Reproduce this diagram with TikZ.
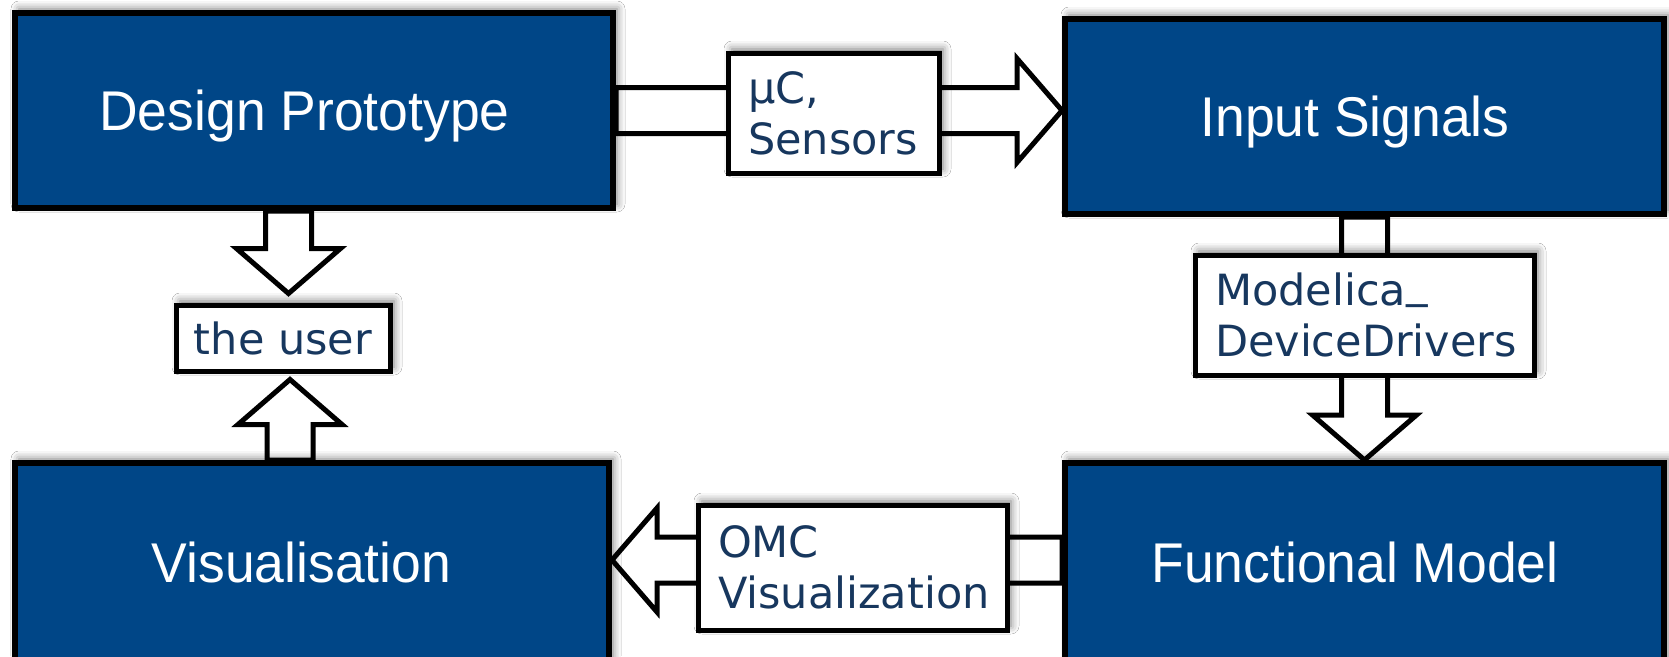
\documentclass[tikz,border=0pt]{standalone}
\usepackage{fontspec}
\newfontfamily\boxfont{Liberation Sans}[FakeStretch=0.955]
\newfontfamily\labfont{DejaVu Sans}
\usetikzlibrary{calc,shadows.blur}
\definecolor{boxblue}{HTML}{004687}
\definecolor{labtext}{HTML}{17375E}
\pgfdeclarelayer{bg}
\pgfsetlayers{bg,main}
\tikzset{
  softshadow/.style={blur shadow={shadow xshift=4pt, shadow yshift=4pt, shadow blur radius=8pt, shadow opacity=55}},
  bigbox/.style={draw=black, line width=6pt, fill=boxblue, text=white,
    font=\boxfont\fontsize{56pt}{60pt}\selectfont, inner sep=0pt,
    text height=40pt, text depth=0pt,
    minimum width=598pt, minimum height=195pt, softshadow},
  labbox/.style={draw=black, line width=5pt, fill=white, text=labtext,
    font=\labfont\fontsize{43pt}{51pt}\selectfont, inner ysep=0pt, inner xsep=20pt,
    align=left, softshadow},
  blockarr/.style={draw=black, line width=5pt, fill=white, line join=miter, miter limit=10}
}
\newcommand\blockarrow[2]{%
  \coordinate (ba-h) at ($(#2)!45pt!(#1)$);
  \path[blockarr] ($(#1)!23pt!90:(#2)$) -- ($(ba-h)!23pt!-90:(#1)$) -- ($(ba-h)!52pt!-90:(#1)$)
    -- (#2) -- ($(ba-h)!52pt!90:(#1)$) -- ($(ba-h)!23pt!90:(#1)$) -- ($(#1)!23pt!-90:(#2)$) -- cycle;
}
\begin{document}
\begin{tikzpicture}[x=1pt, y=-1pt]
\useasboundingbox (0,0) rectangle (1669,656);
% main boxes
\node[bigbox] (dp) at (314,110.5) {Design Prototype\kern19pt};
\node[bigbox, minimum width=599pt] (is) at (1364.5,116.5) {Input Signals\kern19pt};
\node[bigbox, minimum width=594pt, minimum height=198pt] (vis) at (312,562) {Visualisation\kern21pt};
\node[bigbox, minimum width=599pt, minimum height=198pt] (fm) at (1364.5,562) {Functional Model\kern19pt};
% label boxes
\node[labbox, text width=171pt, minimum height=120pt] (mc) at (833.5,113) {µC,\\Sensors};
\node[labbox, text width=299pt, minimum height=120pt] (md) at (1364.5,315) {Modelica\raisebox{8pt}{\_}\\DeviceDrivers};
\node[labbox, text width=269pt, minimum height=125pt] (omc) at (852.5,567.5) {OMC\\Visualization};
\node[labbox, align=center, inner xsep=0pt, minimum width=214pt, minimum height=66pt] (user) at (283,338) {the user};
% arrow helper coordinates
\coordinate (c4) at (288.5,0);
\coordinate (c5) at (290,0);
\coordinate (a1s) at (dp.east);
\coordinate (a1t) at (is.west |- dp.east);
\coordinate (a2s) at (is.south);
\coordinate (a2t) at (fm.north);
\coordinate (a3s) at ($(fm.west)+(0,-2)$);
\coordinate (a3t) at (vis.east |- a3s);
\coordinate (a4s) at (dp.south -| c4);
\coordinate (a4t) at ($(user.north -| c4)+(0,-9)$);
\coordinate (a5s) at (vis.north -| c5);
\coordinate (a5t) at ($(user.south -| c5)+(0,6)$);
\begin{pgfonlayer}{bg}
\fill[white] (0,0) rectangle (1669,656);
\blockarrow{a1s}{a1t}
\blockarrow{a2s}{a2t}
\blockarrow{a3s}{a3t}
\blockarrow{a4s}{a4t}
\blockarrow{a5s}{a5t}
\end{pgfonlayer}
\end{tikzpicture}
\end{document}
